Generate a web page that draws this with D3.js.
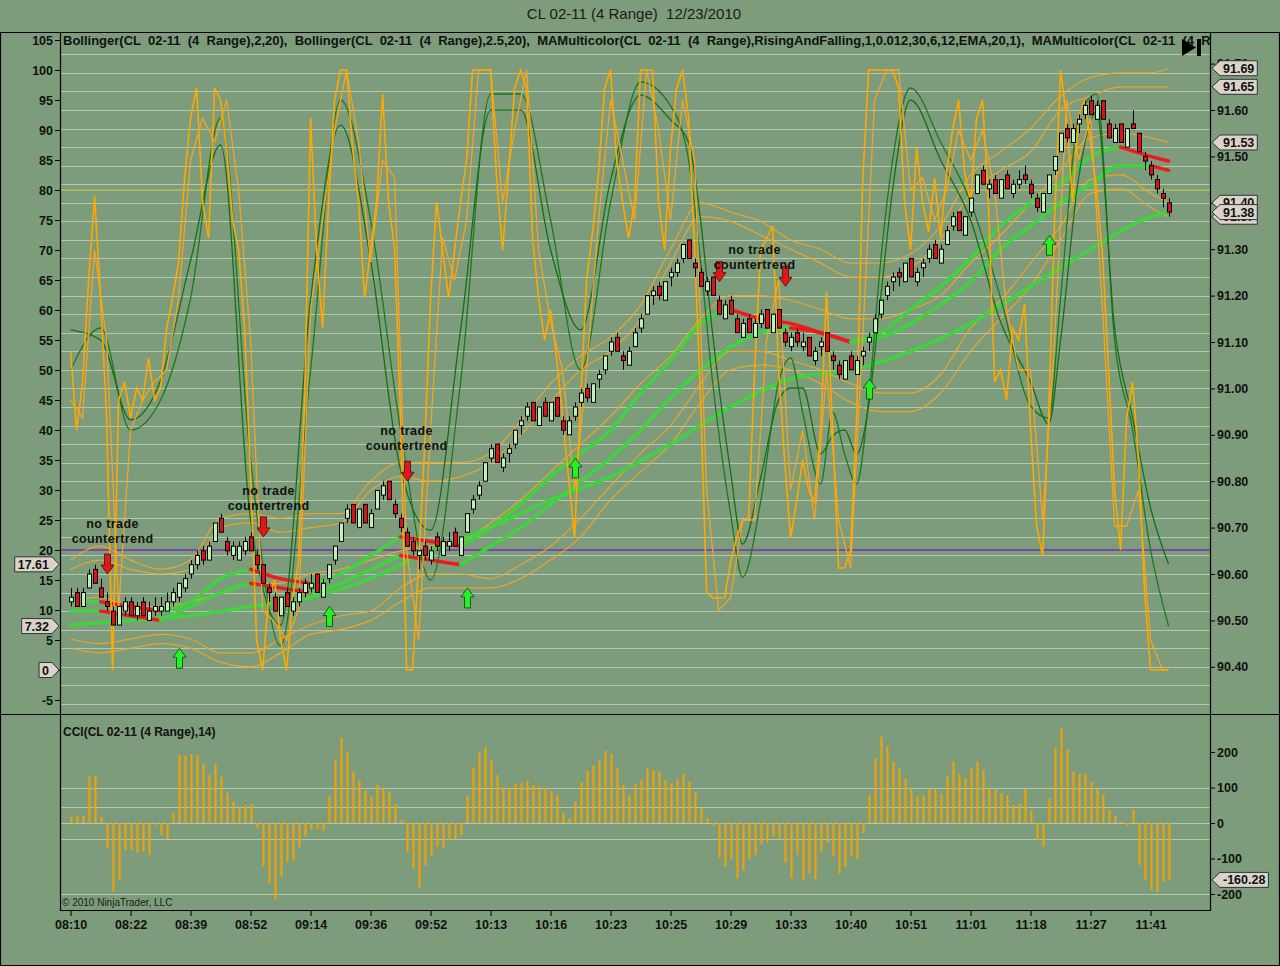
<!DOCTYPE html>
<html>
<head>
<meta charset="utf-8">
<script src="https://cdn.jsdelivr.net/npm/d3@7"></script>
<style>
  html, body { margin: 0; padding: 0; background: #7d9c7b; }
  svg { display: block; font-family: "Liberation Sans", Arial, sans-serif; }
</style>
</head>
<body>
<svg id="chart" width="1280" height="966"></svg>
<script>
// ---- data ----
const timeLabels = ['08:10','08:22','08:39','08:52','09:14','09:36','09:52','10:13','10:16','10:23',
  '10:25','10:29','10:33','10:40','10:51','11:01','11:18','11:27','11:41'];
const timeLabelBars = [0,10,20,30,40,50,60,70,80,90,100,110,120,130,140,150,160,170,180];

const oscTicks = [-5,0,5,10,15,20,25,30,35,40,45,50,55,60,65,70,75,80,85,90,95,100,105];
const priceTicks = [90.40,90.50,90.60,90.70,90.80,90.90,91.00,91.10,91.20,91.30,91.40,91.50,91.60,91.70];
const cciTicks = [-200,-100,0,100,200];
const cciGrid = [100,45,0,-45,-200];

const barOpen = [
  90.54,90.56,90.53,90.57,90.61,90.57,90.54,90.52,90.49,90.52,
  90.54,90.51,90.54,90.50,90.52,90.52,90.52,90.54,90.55,90.57,
  90.60,90.62,90.65,90.63,90.67,90.72,90.67,90.64,90.63,90.65,
  90.68,90.64,90.62,90.57,90.55,90.51,90.56,90.52,90.54,90.56,
  90.57,90.60,90.55,90.59,90.63,90.67,90.72,90.75,90.70,90.75,
  90.70,90.74,90.77,90.80,90.75,90.72,90.69,90.67,90.64,90.66,
  90.63,90.68,90.64,90.66,90.69,90.64,90.69,90.74,90.77,90.80,
  90.85,90.88,90.83,90.86,90.88,90.92,90.94,90.97,90.92,90.97,
  90.93,90.98,90.93,90.90,90.94,90.97,91.00,90.97,91.02,91.04,
  91.08,91.11,91.07,91.05,91.09,91.13,91.16,91.20,91.22,91.19,
  91.24,91.25,91.28,91.32,91.27,91.25,91.21,91.24,91.19,91.15,
  91.19,91.15,91.11,91.15,91.11,91.14,91.17,91.12,91.17,91.12,
  91.09,91.12,91.09,91.11,91.06,91.09,91.12,91.07,91.05,91.02,
  91.07,91.03,91.07,91.10,91.12,91.16,91.20,91.23,91.25,91.23,
  91.28,91.23,91.26,91.28,91.31,91.27,91.31,91.35,91.38,91.33,
  91.38,91.42,91.47,91.43,91.45,91.41,91.46,91.42,91.44,91.46,
  91.44,91.41,91.38,91.42,91.47,91.51,91.56,91.53,91.57,91.59,
  91.62,91.58,91.62,91.57,91.53,91.57,91.52,91.57,91.55,91.50,
  91.48,91.45,91.42,91.40];
const barHigh = [
  90.57,90.57,90.57,90.61,90.62,90.59,90.56,90.53,90.53,90.55,
  90.55,90.54,90.55,90.54,90.55,90.55,90.56,90.57,90.58,90.60,
  90.63,90.65,90.66,90.67,90.71,90.73,90.68,90.67,90.67,90.68,
  90.69,90.65,90.62,90.58,90.56,90.55,90.57,90.55,90.57,90.59,
  90.60,90.60,90.59,90.62,90.66,90.71,90.75,90.75,90.74,90.75,
  90.74,90.78,90.80,90.80,90.76,90.73,90.70,90.68,90.65,90.67,
  90.66,90.69,90.68,90.69,90.70,90.68,90.73,90.77,90.80,90.84,
  90.88,90.88,90.86,90.88,90.91,90.94,90.97,90.97,90.96,90.98,
  90.97,90.98,90.94,90.94,90.97,91.00,91.01,91.01,91.04,91.07,
  91.11,91.12,91.08,91.09,91.13,91.16,91.20,91.22,91.23,91.23,
  91.26,91.28,91.31,91.32,91.28,91.26,91.24,91.24,91.20,91.19,
  91.20,91.16,91.15,91.16,91.15,91.17,91.17,91.16,91.17,91.13,
  91.12,91.13,91.12,91.11,91.09,91.11,91.12,91.08,91.06,91.06,
  91.08,91.07,91.09,91.12,91.16,91.19,91.23,91.25,91.26,91.27,
  91.28,91.26,91.28,91.31,91.32,91.31,91.35,91.38,91.38,91.37,
  91.41,91.46,91.48,91.45,91.46,91.45,91.47,91.45,91.47,91.48,
  91.45,91.42,91.42,91.46,91.50,91.55,91.57,91.57,91.59,91.62,
  91.63,91.62,91.62,91.58,91.57,91.57,91.56,91.60,91.55,91.51,
  91.49,91.46,91.43,91.41];
const barLow = [
  90.53,90.53,90.53,90.57,90.58,90.55,90.52,90.49,90.49,90.51,
  90.51,90.50,90.51,90.50,90.51,90.51,90.52,90.53,90.54,90.56,
  90.59,90.61,90.62,90.63,90.67,90.69,90.64,90.63,90.63,90.64,
  90.65,90.61,90.58,90.54,90.52,90.51,90.53,90.51,90.53,90.55,
  90.56,90.56,90.55,90.58,90.62,90.67,90.71,90.71,90.70,90.71,
  90.70,90.74,90.76,90.76,90.72,90.69,90.66,90.64,90.61,90.63,
  90.62,90.65,90.64,90.65,90.66,90.64,90.69,90.73,90.76,90.80,
  90.84,90.84,90.82,90.84,90.87,90.90,90.93,90.93,90.92,90.94,
  90.93,90.94,90.90,90.90,90.93,90.96,90.97,90.97,91.00,91.03,
  91.07,91.08,91.04,91.05,91.09,91.12,91.16,91.18,91.19,91.19,
  91.22,91.24,91.27,91.28,91.24,91.22,91.20,91.20,91.16,91.15,
  91.16,91.12,91.11,91.12,91.11,91.13,91.13,91.12,91.13,91.09,
  91.08,91.09,91.08,91.07,91.05,91.07,91.08,91.04,91.02,91.02,
  91.04,91.03,91.05,91.08,91.12,91.15,91.19,91.21,91.22,91.23,
  91.24,91.22,91.24,91.27,91.28,91.27,91.31,91.34,91.34,91.33,
  91.37,91.42,91.44,91.41,91.42,91.41,91.43,91.41,91.43,91.44,
  91.41,91.38,91.38,91.42,91.46,91.51,91.53,91.53,91.55,91.58,
  91.59,91.58,91.58,91.54,91.53,91.53,91.52,91.56,91.51,91.47,
  91.45,91.42,91.39,91.37];
const barClose = [
  90.55,90.53,90.56,90.60,90.58,90.55,90.53,90.49,90.53,90.54,
  90.51,90.53,90.51,90.52,90.53,90.53,90.54,90.56,90.58,90.59,
  90.62,90.64,90.63,90.66,90.71,90.69,90.65,90.66,90.66,90.67,
  90.65,90.62,90.58,90.56,90.52,90.55,90.53,90.54,90.56,90.58,
  90.58,90.56,90.58,90.62,90.66,90.71,90.74,90.71,90.74,90.71,
  90.73,90.78,90.79,90.76,90.73,90.70,90.66,90.65,90.65,90.64,
  90.65,90.66,90.67,90.67,90.66,90.68,90.73,90.76,90.79,90.84,
  90.87,90.84,90.85,90.87,90.91,90.93,90.96,90.93,90.96,90.94,
  90.97,90.94,90.91,90.93,90.96,90.99,90.98,91.01,91.03,91.07,
  91.10,91.08,91.06,91.08,91.12,91.15,91.20,91.21,91.20,91.23,
  91.25,91.27,91.31,91.28,91.26,91.22,91.23,91.20,91.16,91.18,
  91.16,91.12,91.14,91.12,91.14,91.16,91.13,91.16,91.13,91.10,
  91.11,91.10,91.10,91.07,91.08,91.10,91.08,91.06,91.03,91.06,
  91.04,91.06,91.08,91.11,91.15,91.19,91.22,91.24,91.24,91.27,
  91.24,91.25,91.27,91.30,91.28,91.30,91.34,91.37,91.34,91.37,
  91.41,91.46,91.44,91.44,91.42,91.45,91.43,91.44,91.45,91.45,
  91.42,91.39,91.42,91.46,91.50,91.55,91.54,91.56,91.58,91.61,
  91.59,91.61,91.58,91.54,91.56,91.53,91.56,91.56,91.51,91.49,
  91.46,91.43,91.41,91.38];

const cciValues = [
  18,22,20,132,132,16,-71,-193,-160,-76,
  -76,-84,-81,-90,-6,-34,-46,29,192,190,
  194,192,166,135,165,130,85,60,44,51,
  53,-15,-123,-170,-215,-151,-111,-106,-68,-38,
  -18,-18,-22,74,179,241,199,145,119,93,
  74,107,100,88,53,8,-81,-128,-181,-120,
  -93,-67,-69,-48,-46,-34,76,157,198,213,
  177,135,100,100,112,112,119,107,102,100,
  91,79,29,13,60,114,147,161,177,204,
  194,154,107,79,110,121,154,149,145,121,
  112,121,138,116,88,41,13,-8,-97,-123,
  -102,-156,-134,-102,-90,-59,-55,-38,-46,-112,
  -156,-90,-161,-142,-159,-81,-55,-95,-142,-123,
  -95,-102,-29,79,182,243,215,173,154,126,
  100,74,79,98,95,84,131,173,138,126,
  154,173,149,100,95,84,79,51,55,95,
  35,-48,-67,69,210,267,208,145,138,138,
  116,95,79,37,20,4,-8,38,-118,-161,
  -189,-193,-165,-160.28];

// bands and moving averages, read every 5 bars (last bar too)
const bandBars = [0,5,10,15,20,25,30,35,40,45,50,55,60,65,70,75,80,85,90,95,100,105,110,115,120,125,130,135,140,145,150,155,160,165,170,175,180,183];
const bbUpper25 = [90.63,90.66,90.63,90.61,90.63,90.72,90.73,90.72,90.73,90.73,90.80,90.84,90.84,90.84,90.86,90.93,91.01,91.07,91.11,91.18,91.30,91.40,91.38,91.36,91.32,91.30,91.27,91.27,91.29,91.35,91.46,91.51,91.56,91.63,91.67,91.68,91.68,91.69];
const bbUpper2 = [90.61,90.63,90.61,90.60,90.61,90.70,90.71,90.69,90.70,90.71,90.78,90.81,90.80,90.81,90.84,90.90,90.97,91.04,91.08,91.15,91.27,91.37,91.36,91.33,91.30,91.27,91.24,91.24,91.26,91.32,91.42,91.47,91.51,91.60,91.63,91.65,91.65,91.65];
const bbMiddle = [90.54,90.55,90.53,90.53,90.54,90.56,90.58,90.58,90.60,90.61,90.63,90.65,90.66,90.67,90.71,90.76,90.82,90.88,90.94,91.01,91.07,91.15,91.20,91.20,91.19,91.17,91.15,91.15,91.17,91.20,91.27,91.33,91.40,91.47,91.54,91.55,91.54,91.53];
const bbLower2 = [90.46,90.45,90.46,90.47,90.46,90.43,90.43,90.46,90.49,90.51,90.52,90.57,90.60,90.60,90.59,90.62,90.66,90.72,90.79,90.86,90.92,91.01,91.08,91.08,91.06,91.04,91.01,90.99,90.99,91.03,91.13,91.19,91.27,91.35,91.45,91.46,91.42,91.40];
const bbLower25 = [90.44,90.43,90.44,90.45,90.44,90.41,90.40,90.43,90.47,90.48,90.50,90.54,90.57,90.57,90.57,90.59,90.63,90.68,90.76,90.82,90.88,90.97,91.04,91.05,91.04,91.01,90.97,90.95,90.95,90.99,91.08,91.15,91.22,91.32,91.42,91.43,91.39,91.37];
const maFast = [90.54,90.54,90.53,90.52,90.54,90.59,90.61,90.59,90.58,90.60,90.64,90.68,90.67,90.66,90.70,90.75,90.81,90.86,90.91,90.99,91.06,91.14,91.17,91.15,91.14,91.12,91.10,91.12,91.17,91.22,91.28,91.35,91.40,91.44,91.50,91.52,91.50,91.49];
const maMid = [90.52,90.52,90.51,90.50,90.53,90.56,90.58,90.57,90.56,90.58,90.61,90.64,90.63,90.62,90.66,90.70,90.75,90.80,90.85,90.91,90.98,91.04,91.09,91.12,91.13,91.12,91.10,91.11,91.14,91.18,91.23,91.30,91.35,91.40,91.44,91.48,91.48,91.47];
const maSlowBars = [0,10,20,30,40,50,60,70,80,90,100,110,120,130,140,150,160,170,180,183];
const maSlow = [90.49,90.50,90.51,90.53,90.55,90.59,90.65,90.70,90.76,90.81,90.88,90.96,91.02,91.04,91.08,91.14,91.22,91.30,91.37,91.38];

// oscillators on the 0-100 scale
const slowBars = [0,5,10,15,20,25,30,35,40,45,50,55,60,65,70,75,80,85,90,95,
  100,103,105,107,110,112,115,118,120,122,125,127,129,131,133,135,137,140,145,150,
  155,160,163,165,168,171,174,177,180,183];
const stochSlowA = [56.7,55,41.7,48.3,68.3,87.5,25,7.5,61.7,90.8,68.3,33.3,23.3,56.7,93.3,93.3,70,56.7,81.7,95.8,
  91.7,88,75,56,33,21,32,45,47,47,36,39,40,36,44,62,80,95,85,75,
  58,48,41,55,82,93,57,42,27,17.61];
const stochSlowB = [50,57,40,45,62,92,35,4,50,95,75,40,15,48,96,96,75,50,78,98,
  94,85,68,48,26,15.5,28,48,52,43,31,43,36,31,45,68,85,97,88,78,
  62,44,42,62,92,96,55,40,20,7.32];
const stochFastK = [
  53,40,48,65,79,62,42,0,45,48,
  42,47,45,52,45,47,57,62,68,82,
  92,97,78,72,97,95,87,75,70,57,
  32,5,0,12,15,5,0,12,18,45,
  92,70,57,78,95,100,100,87,78,62,
  70,78,96,78,70,42,0,0,18,37,
  62,78,70,62,70,78,85,100,100,100,
  100,82,70,83,97,100,97,72,62,55,
  60,52,42,32,22,45,65,73,83,97,
  100,85,78,72,78,100,100,100,78,70,
  87,97,100,92,70,45,13,12,12,12,
  18,22,25,25,50,70,72,74,50,35,
  22,28,35,30,28,40,63,40,17,17,
  20,42,81,100,100,100,100,100,97,78,
  70,87,78,73,82,72,83,90,95,83,
  78,92,95,77,48,50,45,57,55,61,
  40,24,19,42,75,100,92,78,92,95,
  88,80,69,50,30,20,42,48,35,13,
  0,0,0,0];
const stochFastDBars = [0,2,4,6,8,10,12,14,16,18,20,22,24,26,28,30,32,34,36,38,40,42,44,46,48,50,52,54,56,58,
  60,62,64,66,68,70,72,74,76,78,80,82,84,86,88,90,92,94,96,98,100,102,104,106,108,110,112,114,116,118,
  120,122,124,126,128,130,132,134,136,138,140,142,144,146,148,150,152,154,156,158,160,162,164,166,168,170,
  172,174,176,178,180,182,183];
const stochFastD = [
  45,42,70,55,10,40,45,48,50,62,
  85,92,88,95,80,55,10,8,5,10,
  60,75,90,100,88,68,85,82,20,5,
  40,72,65,75,100,100,78,90,100,70,
  58,50,30,50,75,95,85,75,100,90,
  75,95,85,30,10,12,25,25,55,65,
  30,40,25,50,25,17,55,95,100,100,
  80,82,75,80,90,85,90,80,60,50,
  50,25,55,95,85,92,60,24,24,30,
  5,0,0];

// signal arrows and notes
const downArrowBars = [6,32,56,108,119];
const downArrowTips = [90.60,90.68,90.80,91.23,91.22];
const upArrowBars = [18,43,66,84,133,163];
const upArrowTips = [90.44,90.53,90.57,90.85,91.02,91.33];
const noteBars = [7,33,56,114];
const notePrices = [90.70,90.77,90.90,91.29];
const noteLines = ['no trade','countertrend'];

const legendText = 'Bollinger(CL  02-11  (4  Range),2,20),  Bollinger(CL  02-11  (4  Range),2.5,20),  MAMulticolor(CL  02-11  (4  Range),RisingAndFalling,1,0.012,30,6,12,EMA,20,1),  MAMulticolor(CL  02-11  (4  Range),RisingAndFalling,1,0.012,30,6,12,EMA,50,1)';

(function() {
    'use strict';

    const W = 1280, H = 966;
    const plotL = 60, plotR = 1210, mainT = 32, mainB = 714, cciB = 910;
    const bg = '#7d9c7b';
    const gridCol = '#b3c9ae';
    const textCol = '#111';

    const svg = d3.select('#chart');
    svg.append('rect').attr('width', W).attr('height', H).attr('fill', bg);

    const defs = svg.append('defs');
    defs.append('clipPath').attr('id', 'clip-main')
        .append('rect').attr('x', plotL).attr('y', mainT).attr('width', plotR - plotL).attr('height', mainB - mainT);
    defs.append('clipPath').attr('id', 'clip-cci')
        .append('rect').attr('x', plotL).attr('y', mainB).attr('width', plotR - plotL).attr('height', cciB - mainB);

    // scales
    const x = d3.scaleLinear().domain([0, 183]).range([70.6, 1168.6]);
    const yP = d3.scaleLinear().domain([90.40, 91.60]).range([666.8, 110]);
    const yO = d3.scaleLinear().domain([0, 100]).range([670, 70]);
    const yC = d3.scaleLinear().domain([-200, 200]).range([894, 752]);

    // title
    svg.append('text')
        .attr('x', 634).attr('y', 19)
        .attr('text-anchor', 'middle')
        .style('font-size', '15px')
        .style('fill', '#1a1a1a')
        .style('white-space', 'pre')
        .text('CL 02-11 (4 Range)  12/23/2010');

    const gMain = svg.append('g').attr('clip-path', 'url(#clip-main)');
    const gCci = svg.append('g').attr('clip-path', 'url(#clip-cci)');

    // grid lines (price scale every 0.04)
    const gridPrices = d3.range(8, 44).map(k => 90 + k * 0.04);
    gMain.selectAll('.grid').data(gridPrices).join('line')
        .attr('x1', plotL).attr('x2', plotR)
        .attr('y1', d => Math.round(yP(d)) + 0.5).attr('y2', d => Math.round(yP(d)) + 0.5)
        .attr('stroke', gridCol).attr('stroke-width', 1);

    // level lines 80 / 20
    gMain.append('line').attr('x1', plotL).attr('x2', plotR)
        .attr('y1', yO(80)).attr('y2', yO(80)).attr('stroke', '#cfcf55').attr('stroke-width', 1);
    gMain.append('line').attr('x1', plotL).attr('x2', plotR)
        .attr('y1', yO(20)).attr('y2', yO(20)).attr('stroke', '#7a2fb5').attr('stroke-width', 1.3);

    // bollinger bands
    const bandLine = d3.line().x((d, i) => x(bandBars[i])).y(d => yP(d)).curve(d3.curveMonotoneX);
    [bbUpper25, bbUpper2, bbMiddle, bbLower2, bbLower25].forEach(arr => {
        gMain.append('path').attr('d', bandLine(arr))
            .attr('fill', 'none').attr('stroke', '#eea52c').attr('stroke-width', 1.2).attr('opacity', 0.95);
    });

    // multicolor moving averages: green rising, red falling
    function drawMulti(bars, vals, width) {
        const pts = bars.map((b, i) => [x(b), yP(vals[i])]);
        const runs = [];
        let cur = null;
        for (let i = 1; i < pts.length; i++) {
            const falling = vals[i] < vals[i - 1];
            if (!cur || cur.falling !== falling) {
                cur = { falling: falling, pts: [pts[i - 1]] };
                runs.push(cur);
            }
            cur.pts.push(pts[i]);
        }
        const ln = d3.line().curve(d3.curveMonotoneX);
        runs.forEach(r => {
            gMain.append('path').attr('d', ln(r.pts))
                .attr('fill', 'none')
                .attr('stroke', r.falling ? '#ec1c1c' : '#3fd43f')
                .attr('stroke-width', width)
                .attr('stroke-linecap', 'round');
        });
    }
    drawMulti(maSlowBars, maSlow, 3.5);
    drawMulti(bandBars, maMid, 3.5);
    drawMulti(bandBars, maFast, 3.5);

    // oscillators
    const slowLine = d3.line().x((d, i) => x(slowBars[i])).y(d => yO(d)).curve(d3.curveMonotoneX);
    gMain.append('path').attr('d', slowLine(stochSlowB))
        .attr('fill', 'none').attr('stroke', '#1d7a1d').attr('stroke-width', 1.3);
    gMain.append('path').attr('d', slowLine(stochSlowA))
        .attr('fill', 'none').attr('stroke', '#167016').attr('stroke-width', 1.3);

    const fastDLine = d3.line().x((d, i) => x(stochFastDBars[i])).y(d => yO(d));
    gMain.append('path').attr('d', fastDLine(stochFastD))
        .attr('fill', 'none').attr('stroke', '#f2a428').attr('stroke-width', 1.3);
    const fastKLine = d3.line().x((d, i) => x(i)).y(d => yO(d));
    gMain.append('path').attr('d', fastKLine(stochFastK))
        .attr('fill', 'none').attr('stroke', '#ffa800').attr('stroke-width', 1.6);

    // candles
    const bars = d3.range(barClose.length);
    gMain.selectAll('.wick').data(bars).join('line')
        .attr('x1', i => Math.round(x(i)) + 0.5).attr('x2', i => Math.round(x(i)) + 0.5)
        .attr('y1', i => yP(barHigh[i])).attr('y2', i => yP(barLow[i]))
        .attr('stroke', '#000').attr('stroke-width', 1);
    gMain.selectAll('.body').data(bars).join('rect')
        .attr('x', i => Math.round(x(i)) - 1.5)
        .attr('width', 4)
        .attr('y', i => yP(Math.max(barOpen[i], barClose[i])))
        .attr('height', i => Math.max(1, Math.abs(yP(barOpen[i]) - yP(barClose[i]))))
        .attr('fill', i => barClose[i] >= barOpen[i] ? '#bdf2b6' : '#dd1212')
        .attr('stroke', '#000').attr('stroke-width', 1);

    // arrows
    function arrowPath(cx, tipY, s) {
        const pts = [[0, 0], [-6.5, -9 * s], [-3, -9 * s], [-3, -20 * s], [3, -20 * s], [3, -9 * s], [6.5, -9 * s]];
        return 'M' + pts.map(p => (cx + p[0]) + ',' + (tipY + p[1])).join('L') + 'Z';
    }
    gMain.selectAll('.dn').data(downArrowBars).join('path')
        .attr('d', (b, i) => arrowPath(Math.round(x(b)) + 0.5, yP(downArrowTips[i]), 1))
        .attr('fill', '#e21616').attr('stroke', '#3a1010').attr('stroke-width', 0.8);
    gMain.selectAll('.up').data(upArrowBars).join('path')
        .attr('d', (b, i) => arrowPath(Math.round(x(b)) + 0.5, yP(upArrowTips[i]), -1))
        .attr('fill', '#24f024').attr('stroke', '#173a17').attr('stroke-width', 0.8);

    // notes
    noteBars.forEach((b, i) => {
        noteLines.forEach((t, k) => {
            gMain.append('text')
                .attr('x', x(b)).attr('y', yP(notePrices[i]) + k * 15)
                .attr('text-anchor', 'middle')
                .style('font-size', '12.5px').style('font-weight', 'bold')
                .style('letter-spacing', '0.4px')
                .style('fill', textCol)
                .text(t);
        });
    });

    // legend (runs past the plot edge and is cut there, as in the original)
    gMain.append('text')
        .attr('x', 63).attr('y', 45)
        .style('font-size', '13px').style('font-weight', 'bold')
        .style('white-space', 'pre').style('fill', textCol)
        .text(legendText);

    // play-to-end icon
    svg.append('path').attr('d', 'M1182,39L1196,47.5L1182,56Z').attr('fill', '#000');
    svg.append('rect').attr('x', 1197).attr('y', 39).attr('width', 4).attr('height', 17).attr('fill', '#000');

    // CCI panel
    gCci.selectAll('.cgrid').data(cciGrid).join('line')
        .attr('x1', plotL).attr('x2', plotR)
        .attr('y1', d => Math.round(yC(d)) + 0.5).attr('y2', d => Math.round(yC(d)) + 0.5)
        .attr('stroke', gridCol).attr('stroke-width', 1);
    gCci.selectAll('.cbar').data(bars).join('rect')
        .attr('x', i => Math.round(x(i)) - 0.5)
        .attr('width', 2)
        .attr('y', i => Math.min(yC(0), yC(cciValues[i])))
        .attr('height', i => Math.abs(yC(cciValues[i]) - yC(0)))
        .attr('fill', '#f5a300');
    svg.append('text').attr('x', 63).attr('y', 736)
        .style('font-size', '12px').style('font-weight', 'bold').style('fill', textCol)
        .text('CCI(CL 02-11 (4 Range),14)');
    svg.append('text').attr('x', 62).attr('y', 906)
        .style('font-size', '10px').style('fill', '#1a1a1a')
        .text('\u00a9 2010 NinjaTrader, LLC');

    // axes (plain hyphen for negatives, like the platform)
    const plain = d => String(d);
    function styleAxis(g) {
        g.select('.domain').remove();
        g.selectAll('line').attr('stroke', '#000');
        g.selectAll('text').style('font-size', '12.5px').style('font-weight', 'bold')
            .style('fill', textCol).style('font-family', '"Liberation Sans", Arial, sans-serif');
    }
    svg.append('g').attr('transform', `translate(${plotL},0)`)
        .call(d3.axisLeft(yO).tickValues(oscTicks).tickSize(5).tickPadding(2).tickFormat(plain))
        .call(styleAxis);
    svg.append('g').attr('transform', `translate(${plotR},0)`)
        .call(d3.axisRight(yP).tickValues(priceTicks).tickSize(5).tickPadding(2).tickFormat(d => d.toFixed(2)))
        .call(styleAxis);
    svg.append('g').attr('transform', `translate(${plotR},0)`)
        .call(d3.axisRight(yC).tickValues(cciTicks).tickSize(5).tickPadding(2).tickFormat(plain))
        .call(styleAxis);
    svg.append('g').attr('transform', `translate(0,${cciB})`)
        .call(d3.axisBottom(x).tickValues(timeLabelBars).tickSize(6).tickPadding(4)
            .tickFormat((d, i) => timeLabels[i]))
        .call(styleAxis);

    // frame lines
    const frame = [
        [0, 32.5, W, 32.5], [0.5, 32, 0.5, H], [W - 0.5, 32, W - 0.5, H], [0, H - 0.5, W, H - 0.5],
        [0, mainB + 0.5, W, mainB + 0.5],
        [plotL + 0.5, 32, plotL + 0.5, cciB + 1], [plotR + 0.5, 32, plotR + 0.5, cciB + 1],
        [plotL, cciB + 0.5, plotR + 1, cciB + 0.5]
    ];
    svg.selectAll('.frame').data(frame).join('line')
        .attr('x1', d => d[0]).attr('y1', d => d[1]).attr('x2', d => d[2]).attr('y2', d => d[3])
        .attr('stroke', '#000').attr('stroke-width', 1.2);

    // value markers (last values), stacked like the original price scale
    function marker(cy, label, side) {
        const g = svg.append('g');
        const t = g.append('text').attr('y', cy + 4.5)
            .attr('text-anchor', 'middle')
            .style('font-size', '12.5px').style('font-weight', 'bold').style('fill', textCol)
            .text(label);
        const w = t.node().getComputedTextLength() + 6;
        const h = 15;
        let d, cx;
        if (side === 'right') {
            const tx = plotR + 2;
            d = `M${tx},${cy}L${tx + 8},${cy - h / 2}L${tx + 8 + w},${cy - h / 2}L${tx + 8 + w},${cy + h / 2}L${tx + 8},${cy + h / 2}Z`;
            cx = tx + 8 + w / 2;
        } else {
            const tx = plotL - 1;
            d = `M${tx},${cy}L${tx - 7},${cy - h / 2}L${tx - 7 - w},${cy - h / 2}L${tx - 7 - w},${cy + h / 2}L${tx - 7},${cy + h / 2}Z`;
            cx = tx - 7 - w / 2;
        }
        g.insert('path', 'text').attr('d', d).attr('fill', '#d9d3ca').attr('stroke', '#333').attr('stroke-width', 1);
        t.attr('x', cx);
    }
    const last = arr => arr[arr.length - 1];
    const fmt = v => v === 0 ? '0' : v.toFixed(2);
    marker(yP(last(bbUpper25)), fmt(last(bbUpper25)), 'right');
    marker(yP(last(bbUpper2)), fmt(last(bbUpper2)), 'right');
    marker(yP(last(bbMiddle)), fmt(last(bbMiddle)), 'right');
    marker(yP(last(bbLower25)), fmt(last(bbLower25)), 'right');
    marker(yP(last(bbLower2)), fmt(last(bbLower2)), 'right');
    marker(yP(last(barClose)), fmt(last(barClose)), 'right');
    marker(yC(last(cciValues)), fmt(last(cciValues)), 'right');
    marker(yO(last(stochSlowA)), fmt(last(stochSlowA)), 'left');
    marker(yO(last(stochSlowB)), fmt(last(stochSlowB)), 'left');
    marker(yO(last(stochFastK)), fmt(last(stochFastK)), 'left');
})();
</script>
</body>
</html>
